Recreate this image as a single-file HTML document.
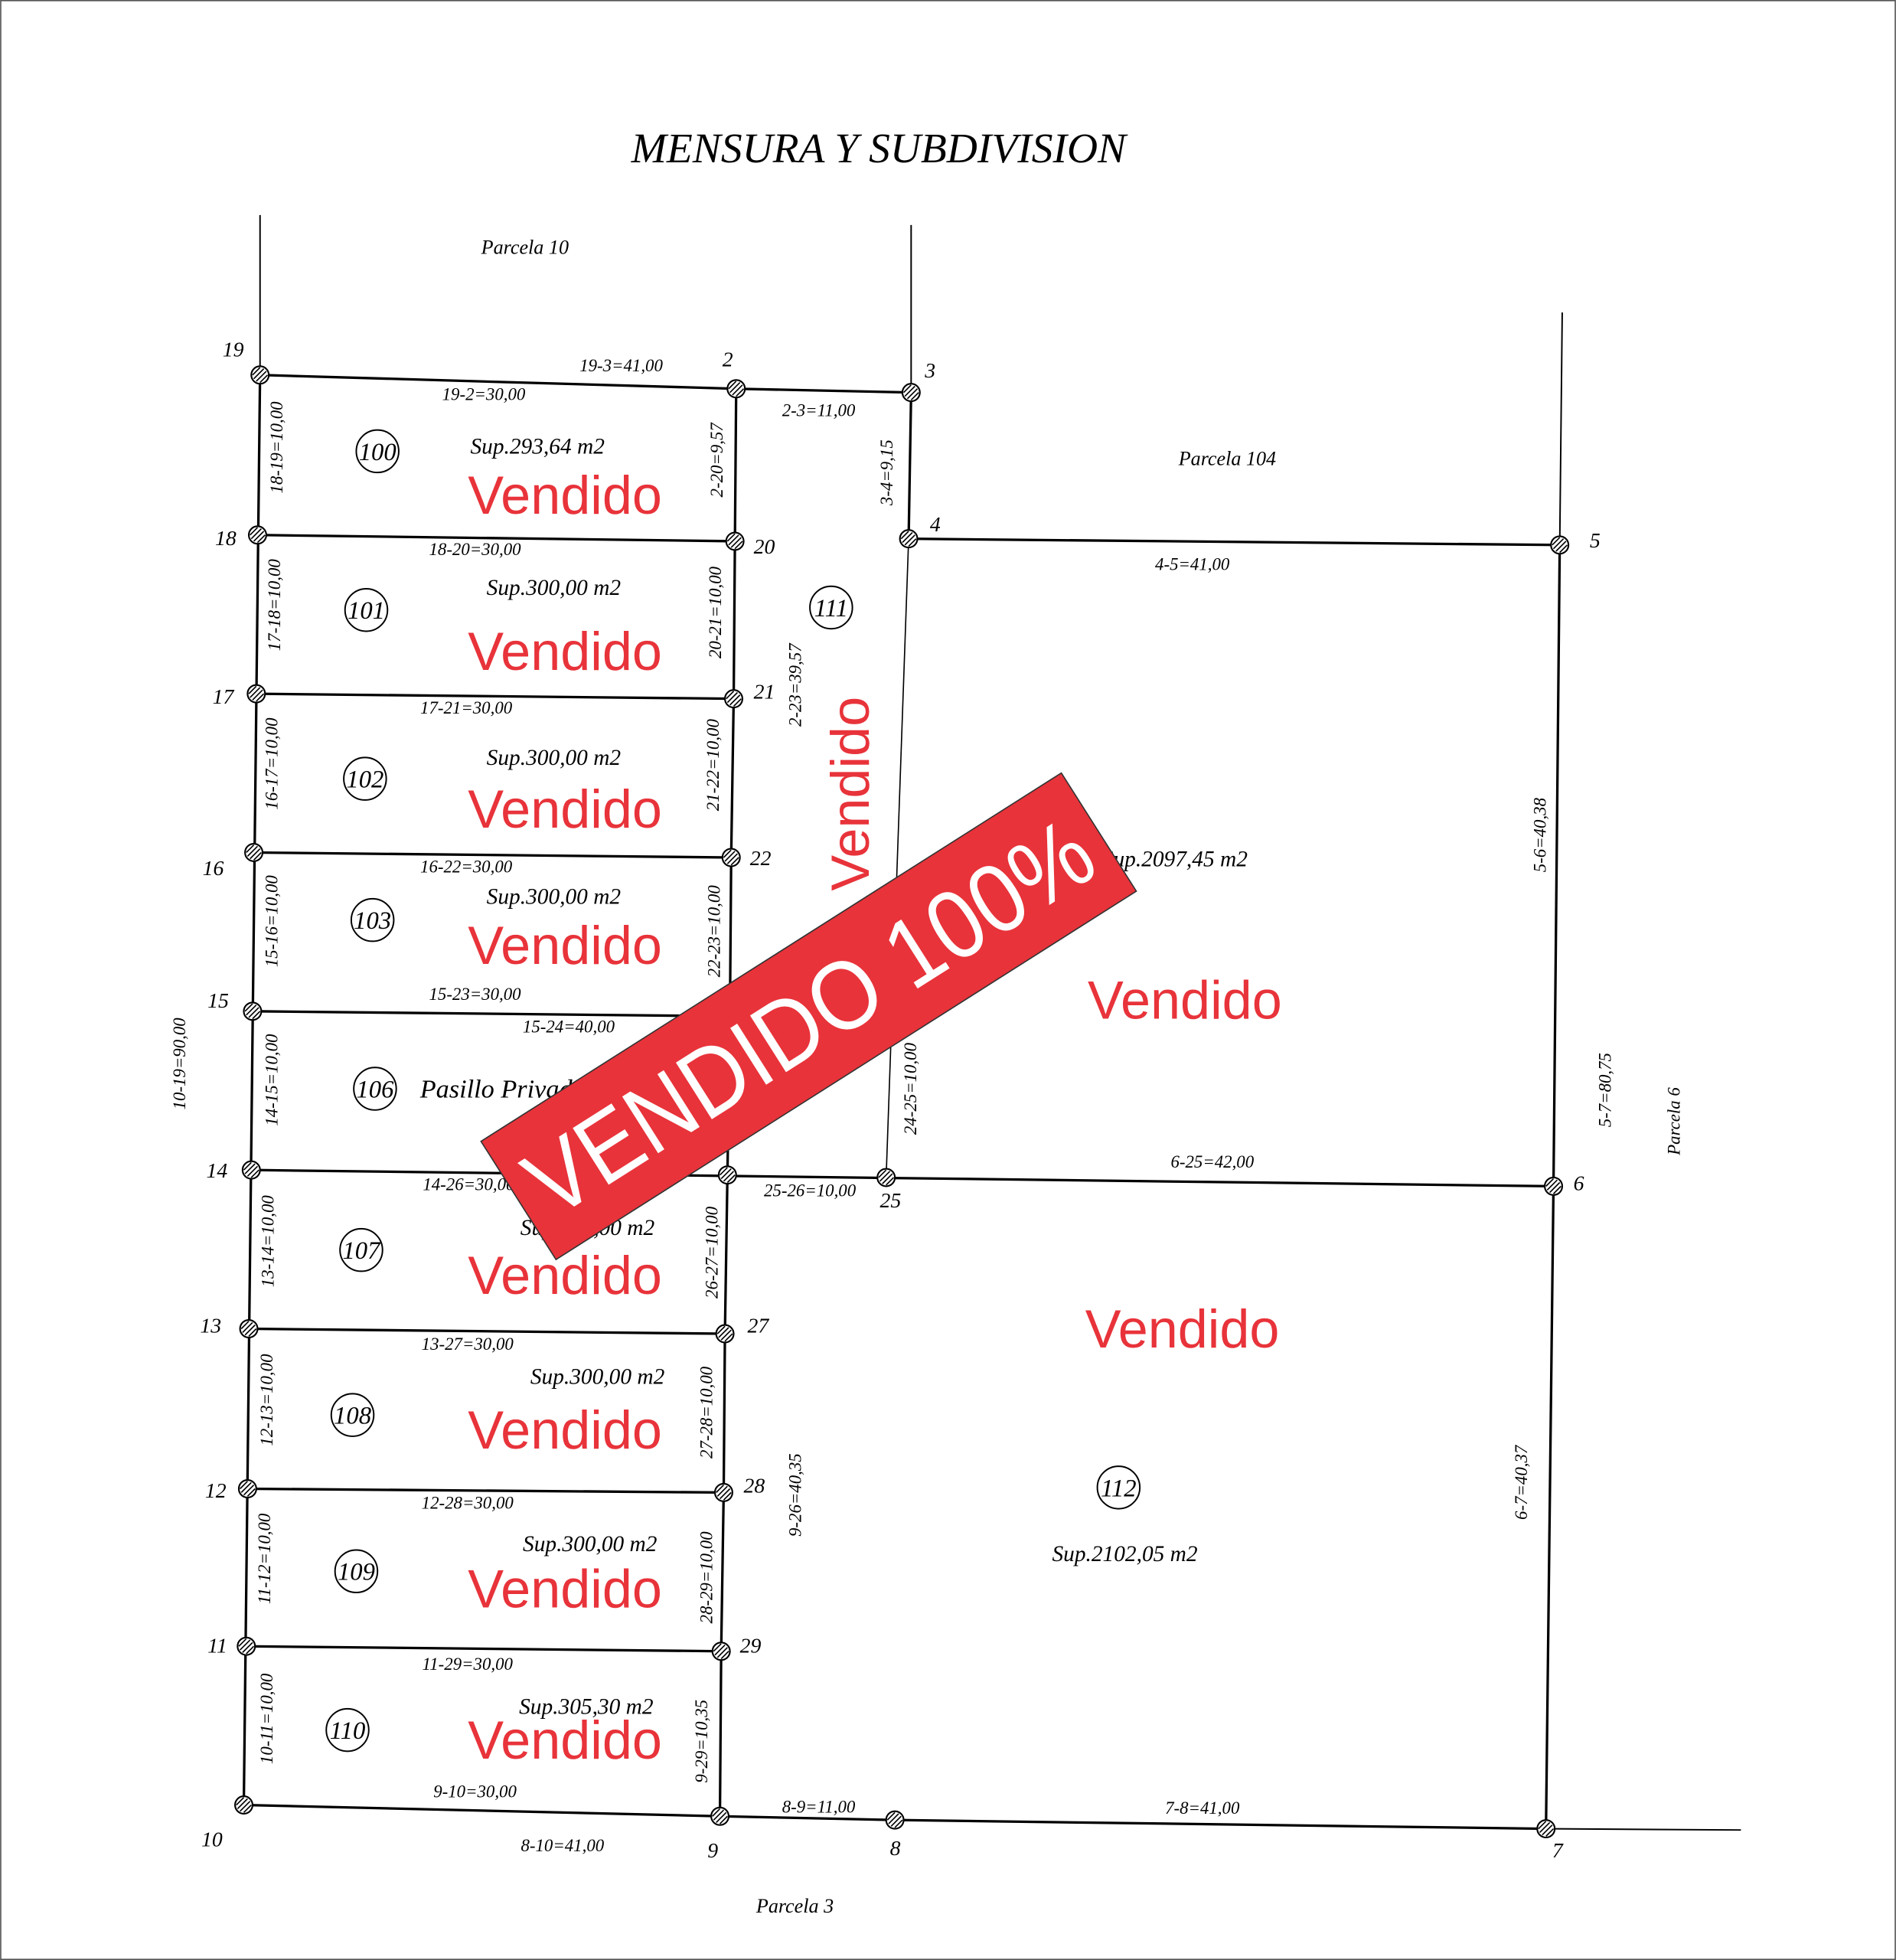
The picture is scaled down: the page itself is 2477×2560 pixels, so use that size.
<!DOCTYPE html>
<html><head><meta charset="utf-8"><style>html,body{margin:0;padding:0;background:#fff}svg{display:block}</style></head><body>
<svg width="2477" height="2560" viewBox="0 0 1517 1568" xmlns="http://www.w3.org/2000/svg">
<defs>
<g id="m"><circle r="7" fill="#fff" stroke="#000" stroke-width="1.3"/><line x1="-5" y1="3" x2="3" y2="-5" stroke="#000" stroke-width="1"/><line x1="-3" y1="5" x2="5" y2="-3" stroke="#000" stroke-width="1"/><line x1="-6" y1="0" x2="0" y2="-6" stroke="#000" stroke-width="1"/><line x1="0" y1="6" x2="6" y2="0" stroke="#000" stroke-width="1"/></g>
</defs>
<rect x="0.5" y="0.5" width="1516" height="1567" fill="#fff" stroke="#555" stroke-width="1"/>
<text x="703" y="130" font-family="Liberation Serif" font-style="italic" font-size="34" text-anchor="middle">MENSURA Y SUBDIVISION</text>
<g stroke="#000" stroke-width="2" fill="none">
<line x1="208" y1="172" x2="208" y2="300" stroke-width="1.2"/>
<line x1="729" y1="180" x2="729" y2="314" stroke-width="1.2"/>
<line x1="1250" y1="250" x2="1248" y2="436" stroke-width="1.2"/>
<line x1="1237" y1="1463" x2="1393" y2="1464" stroke-width="1.2"/>
<polyline points="208,300 589,311 729,314 727,431 1248,436 1243,949 1237,1463 716,1456 576,1453 195,1444 208,300"/>
<polyline points="589,311 588,433 587,559 585,686 584,813 582,940 580,1067 579,1194 577,1321 576,1453"/>
<line x1="206" y1="428" x2="588" y2="433"/>
<line x1="205" y1="555" x2="587" y2="559"/>
<line x1="203" y1="682" x2="585" y2="686"/>
<line x1="202" y1="809" x2="584" y2="813"/>
<line x1="201" y1="936" x2="1243" y2="949"/>
<line x1="199" y1="1063" x2="580" y2="1067"/>
<line x1="198" y1="1191" x2="579" y2="1194"/>
<line x1="197" y1="1317" x2="577" y2="1321"/>
<line x1="727" y1="431" x2="709" y2="942" stroke-width="1"/>
</g>
<g>
<use href="#m" x="208" y="300"/><use href="#m" x="589" y="311"/><use href="#m" x="729" y="314"/><use href="#m" x="727" y="431"/><use href="#m" x="1248" y="436"/>
<use href="#m" x="206" y="428"/><use href="#m" x="588" y="433"/><use href="#m" x="205" y="555"/><use href="#m" x="587" y="559"/>
<use href="#m" x="203" y="682"/><use href="#m" x="585" y="686"/><use href="#m" x="202" y="809"/><use href="#m" x="201" y="936"/>
<use href="#m" x="582" y="940"/><use href="#m" x="709" y="942"/><use href="#m" x="1243" y="949"/><use href="#m" x="199" y="1063"/>
<use href="#m" x="580" y="1067"/><use href="#m" x="198" y="1191"/><use href="#m" x="579" y="1194"/><use href="#m" x="197" y="1317"/>
<use href="#m" x="577" y="1321"/><use href="#m" x="195" y="1444"/><use href="#m" x="576" y="1453"/><use href="#m" x="716" y="1456"/><use href="#m" x="1237" y="1463"/>
</g>
<g font-family="Liberation Serif" font-style="italic" font-size="17">
<text x="178" y="285">19</text><text x="578" y="293">2</text><text x="740" y="302">3</text><text x="744" y="425">4</text><text x="1272" y="438">5</text>
<text x="172" y="436">18</text><text x="603" y="443">20</text><text x="170" y="563">17</text><text x="603" y="559">21</text>
<text x="162" y="700">16</text><text x="600" y="692">22</text><text x="166" y="806">15</text><text x="165" y="942">14</text>
<text x="704" y="966">25</text><text x="1259" y="952">6</text><text x="160" y="1066">13</text><text x="598" y="1066">27</text>
<text x="164" y="1198">12</text><text x="595" y="1194">28</text><text x="166" y="1322">11</text><text x="592" y="1322">29</text>
<text x="161" y="1477">10</text><text x="566" y="1486">9</text><text x="712" y="1484">8</text><text x="1242" y="1486">7</text>
</g>
<g font-family="Liberation Serif" font-style="italic" font-size="14">
<text x="420" y="203" text-anchor="middle" font-size="16">Parcela 10</text>
<text x="982" y="372" text-anchor="middle" font-size="16">Parcela 104</text>
<text x="636" y="1530" text-anchor="middle" font-size="16">Parcela 3</text>
<text transform="translate(1344,897) rotate(-90)" text-anchor="middle">Parcela 6</text>
<text x="497" y="297" text-anchor="middle">19-3=41,00</text>
<text x="387" y="320" text-anchor="middle">19-2=30,00</text>
<text x="655" y="333" text-anchor="middle">2-3=11,00</text>
<text x="380" y="444" text-anchor="middle">18-20=30,00</text>
<text x="954" y="456" text-anchor="middle">4-5=41,00</text>
<text x="373" y="571" text-anchor="middle">17-21=30,00</text>
<text x="373" y="698" text-anchor="middle">16-22=30,00</text>
<text x="380" y="800" text-anchor="middle">15-23=30,00</text>
<text x="455" y="826" text-anchor="middle">15-24=40,00</text>
<text x="375" y="952" text-anchor="middle">14-26=30,00</text>
<text x="648" y="957" text-anchor="middle">25-26=10,00</text>
<text x="970" y="934" text-anchor="middle">6-25=42,00</text>
<text x="374" y="1080" text-anchor="middle">13-27=30,00</text>
<text x="374" y="1207" text-anchor="middle">12-28=30,00</text>
<text x="374" y="1336" text-anchor="middle">11-29=30,00</text>
<text x="380" y="1438" text-anchor="middle">9-10=30,00</text>
<text x="450" y="1481" text-anchor="middle">8-10=41,00</text>
<text x="655" y="1450" text-anchor="middle">8-9=11,00</text>
<text x="962" y="1451" text-anchor="middle">7-8=41,00</text>
<text transform="translate(226,358) rotate(-90)" text-anchor="middle">18-19=10,00</text>
<text transform="translate(224,484) rotate(-90)" text-anchor="middle">17-18=10,00</text>
<text transform="translate(222,611) rotate(-90)" text-anchor="middle">16-17=10,00</text>
<text transform="translate(222,737) rotate(-90)" text-anchor="middle">15-16=10,00</text>
<text transform="translate(222,864) rotate(-90)" text-anchor="middle">14-15=10,00</text>
<text transform="translate(219,993) rotate(-90)" text-anchor="middle">13-14=10,00</text>
<text transform="translate(218,1120) rotate(-90)" text-anchor="middle">12-13=10,00</text>
<text transform="translate(216,1247) rotate(-90)" text-anchor="middle">11-12=10,00</text>
<text transform="translate(218,1375) rotate(-90)" text-anchor="middle">10-11=10,00</text>
<text transform="translate(148,851) rotate(-90)" text-anchor="middle">10-19=90,00</text>
<text transform="translate(578,368) rotate(-90)" text-anchor="middle">2-20=9,57</text>
<text transform="translate(577,490) rotate(-90)" text-anchor="middle">20-21=10,00</text>
<text transform="translate(575,612) rotate(-90)" text-anchor="middle">21-22=10,00</text>
<text transform="translate(576,745) rotate(-90)" text-anchor="middle">22-23=10,00</text>
<text transform="translate(574,1002) rotate(-90)" text-anchor="middle">26-27=10,00</text>
<text transform="translate(570,1130) rotate(-90)" text-anchor="middle">27-28=10,00</text>
<text transform="translate(570,1262) rotate(-90)" text-anchor="middle">28-29=10,00</text>
<text transform="translate(566,1393) rotate(-90)" text-anchor="middle">9-29=10,35</text>
<text transform="translate(641,548) rotate(-90)" text-anchor="middle">2-23=39,57</text>
<text transform="translate(714,378) rotate(-90)" text-anchor="middle">3-4=9,15</text>
<text transform="translate(733,871) rotate(-90)" text-anchor="middle">24-25=10,00</text>
<text transform="translate(641,1196) rotate(-90)" text-anchor="middle">9-26=40,35</text>
<text transform="translate(1237,668) rotate(-90)" text-anchor="middle">5-6=40,38</text>
<text transform="translate(1289,872) rotate(-90)" text-anchor="middle">5-7=80,75</text>
<text transform="translate(1222,1186) rotate(-90)" text-anchor="middle">6-7=40,37</text>
</g>
<g font-family="Liberation Serif" font-style="italic" font-size="18">
<text x="430" y="363" text-anchor="middle">Sup.293,64 m2</text>
<text x="443" y="476" text-anchor="middle">Sup.300,00 m2</text>
<text x="443" y="612" text-anchor="middle">Sup.300,00 m2</text>
<text x="443" y="723" text-anchor="middle">Sup.300,00 m2</text>
<text x="336" y="878" font-size="21">Pasillo Privado</text>
<text x="470" y="988" text-anchor="middle">Sup.300,00 m2</text>
<text x="478" y="1107" text-anchor="middle">Sup.300,00 m2</text>
<text x="472" y="1241" text-anchor="middle">Sup.300,00 m2</text>
<text x="469" y="1371" text-anchor="middle">Sup.305,30 m2</text>
<text x="900" y="1249" text-anchor="middle">Sup.2102,05 m2</text>
<text x="940" y="693" text-anchor="middle">Sup.2097,45 m2</text>
</g>
<g fill="none" stroke="#000" stroke-width="1.2">
<circle cx="302" cy="361" r="17"/><circle cx="293" cy="488" r="17"/><circle cx="292" cy="623" r="17"/><circle cx="298" cy="736" r="17"/>
<circle cx="300" cy="871" r="17"/><circle cx="289" cy="1000" r="17"/><circle cx="282" cy="1132" r="17"/><circle cx="285" cy="1257" r="17"/>
<circle cx="278" cy="1384" r="17"/><circle cx="665" cy="486" r="17"/><circle cx="895" cy="1190" r="17"/>
</g>
<g font-family="Liberation Serif" font-style="italic" font-size="20" text-anchor="middle">
<text x="302" y="368">100</text><text x="293" y="495">101</text><text x="292" y="630">102</text><text x="298" y="743">103</text>
<text x="300" y="878">106</text><text x="289" y="1007">107</text><text x="282" y="1139">108</text><text x="285" y="1264">109</text>
<text x="278" y="1391">110</text><text x="665" y="493">111</text><text x="895" y="1197">112</text>
</g>
<g font-family="Liberation Sans" font-size="43" fill="#e8333a" text-anchor="middle">
<text x="452" y="411">Vendido</text><text x="452" y="536">Vendido</text><text x="452" y="662">Vendido</text>
<text x="452" y="771">Vendido</text><text x="452" y="1035">Vendido</text><text x="452" y="1159">Vendido</text>
<text x="452" y="1286">Vendido</text><text x="452" y="1407">Vendido</text>
<text x="948" y="815">Vendido</text><text x="946" y="1078">Vendido</text>
<text transform="translate(695,635) rotate(-90)">Vendido</text>
</g>
<g transform="translate(647,813) rotate(-32.4)">
<rect x="-275" y="-56" width="550" height="112" fill="#e8333a" stroke="#333" stroke-width="1"/>
<text x="0" y="28" font-family="Liberation Sans" font-size="78" fill="#fff" text-anchor="middle" textLength="520" lengthAdjust="spacingAndGlyphs">VENDIDO 100%</text>
</g>
</svg>
</body></html>
